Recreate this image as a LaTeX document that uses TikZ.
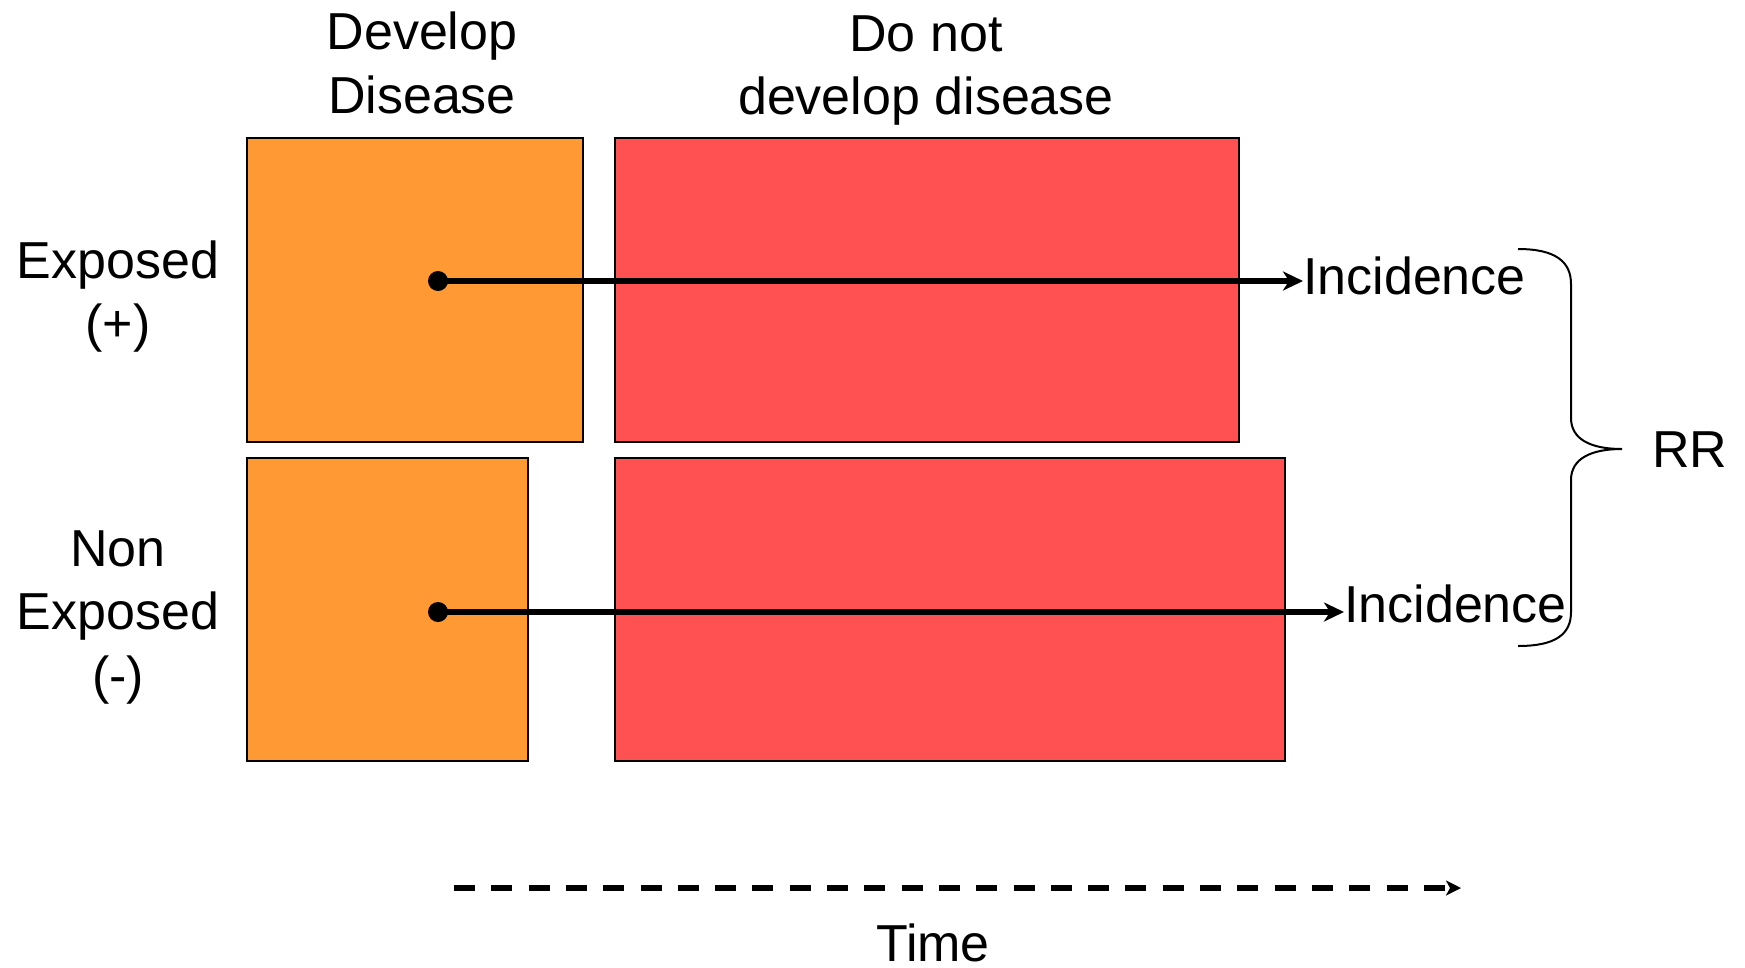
\documentclass[tikz,border=0pt]{standalone}
\usepackage{fontspec}
\setmainfont{Liberation Sans}
\usetikzlibrary{arrows.meta}
\definecolor{devorange}{HTML}{FF9933}
\definecolor{nodevred}{HTML}{FF5151}
\tikzset{
  cellbox/.style={draw=black, line width=2pt, inner sep=0pt, anchor=north west},
  label/.style={font=\fontsize{52}{63.5}\selectfont, align=center, inner sep=0pt},
  dot/.style={circle, fill=black, inner sep=0pt, minimum size=20pt},
  flow/.style={line width=6.5pt, -{Stealth[length=20pt,width=19pt,inset=6pt]}},
  timeline/.style={line width=6pt, dash pattern=on 21pt off 16.3pt, -{Stealth[length=15pt,width=15pt,inset=4pt]}},
  bracepath/.style={line width=2pt}
}
\begin{document}
\begin{tikzpicture}[x=1pt,y=-1pt]
\useasboundingbox (0,0) rectangle (1745,967);

% column headings
\node[label] (hdev) at (422,63) {Develop\\Disease};
\node[label] (hnodev) at (926,70.5) {Do not\\develop disease};

% row headings
\node[label] (hexp) at (118,296.5) {Exposed\\(+)};
\node[label] (hnonexp) at (118,617) {Non\\Exposed\\(-)};

% cohort boxes
\node[cellbox, fill=devorange, minimum width=336pt, minimum height=304pt] (o1) at (246,137) {};
\node[cellbox, fill=nodevred, minimum width=624pt, minimum height=304pt] (r1) at (614,137) {};
\node[cellbox, fill=devorange, minimum width=281pt, minimum height=303pt] (o2) at (246,457) {};
\node[cellbox, fill=nodevred, minimum width=670pt, minimum height=303pt] (r2) at (614,457) {};

% incidence labels and arrows
\node[dot] (d1) at (438,281) {};
\node[dot] (d2) at (438,612) {};
\node[label, anchor=base west] (inc1) at (1303,294) {Incidence};
\node[label, anchor=base west] (inc2) at (1344,622) {Incidence};
\draw[flow] (d1.center) -- (inc1.west |- d1);
\draw[flow] (d2.center) -- (inc2.west |- d2);

% brace grouping the two incidences
\coordinate (btop) at (1518,249);
\coordinate (btip) at (1622,449);
\coordinate (bbot) at (1518,646);
\draw[bracepath] (btop) .. controls (1556,249) and (1571,262) .. (1571,284)
  -- (1571,418) .. controls (1571,440) and (1592,449) .. (btip)
  .. controls (1592,449) and (1571,458) .. (1571,480)
  -- (1571,612) .. controls (1571,634) and (1556,646) .. (bbot);
\node[label, anchor=base west] (rr) at (1652,467) {RR};

% time axis
\coordinate (tstart) at (454,888);
\coordinate (tend) at (1461,888);
\draw[timeline] (tstart) -- (tend);
\node[label] (time) at (933,943) {Time};
\end{tikzpicture}
\end{document}
